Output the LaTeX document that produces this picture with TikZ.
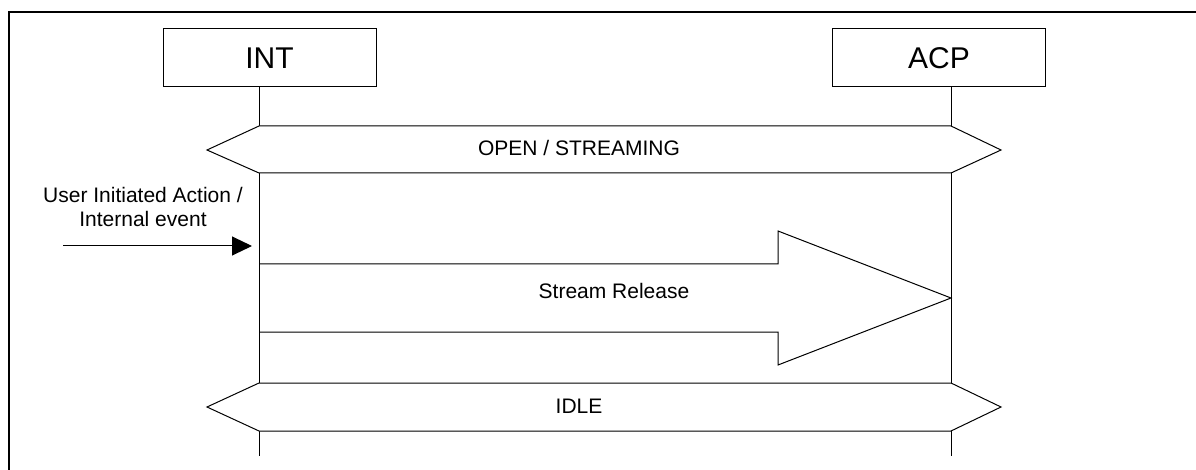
\documentclass[tikz,border=0pt]{standalone}
\usepackage{fontspec}
\setmainfont{Liberation Sans}
\usetikzlibrary{arrows.meta}
\tikzset{
  lifebox/.style={draw, line width=1pt, minimum width=213pt, minimum height=58pt, inner sep=0pt, font=\fontsize{30}{36}\selectfont},
  lbl/.style={inner sep=0pt, font=\fontsize{21}{24}\selectfont},
  shp/.style={draw, fill=white, line width=1pt, line join=miter},
  ln/.style={line width=1pt},
  frameln/.style={line width=1.6pt}
}
\begin{document}
\begin{tikzpicture}[x=1pt, y=-1pt]
\useasboundingbox (0,0) rectangle (1196,470);
% frame
\coordinate (fA) at (9,470);
\coordinate (fB) at (9,12);
\coordinate (fC) at (1196,12);
\draw[frameln] (fA) -- (fB) -- (fC);
% lifeline boxes
\node[lifebox] (int) at (269.5,58) {INT};
\node[lifebox] (acp) at (939,58) {ACP};
\coordinate (intEnd) at (259,456);
\coordinate (acpEnd) at (951,456);
\draw[ln] (int.south -| intEnd) -- (intEnd);
\draw[ln] (acp.south -| acpEnd) -- (acpEnd);
% OPEN / STREAMING state
\draw[shp] (259,126) -- (951,126) -- (1001,150) -- (951,173) -- (259,173) -- (207,150) -- cycle;
\node[lbl] (open) at (579,148) {OPEN / STREAMING};
% Stream Release arrow
\fill[white] (259,264) -- (778,264) -- (778,231) -- (951,298) -- (778,365) -- (778,332) -- (259,332) -- cycle;
\draw[ln, line join=miter] (259,264) -- (778,264) -- (778,231) -- (951,298) -- (778,365) -- (778,332) -- (259,332);
\draw[ln] (259,173) -- (259,383);
\node[lbl] (rel) at (614,291) {Stream Release};
% IDLE state
\draw[shp] (259,383) -- (951,383) -- (1001,407) -- (951,431) -- (259,431) -- (207,407) -- cycle;
\node[lbl] (idle) at (579,406) {IDLE};
% trigger
\node[lbl, align=center] (trig) at (143,207) {User Initiated Action /\\Internal event};
\coordinate (evStart) at (63,246);
\coordinate (evEnd) at (252,246);
\draw[ln, -{Triangle[length=20pt,width=19pt]}] (evStart) -- (evEnd);
\end{tikzpicture}
\end{document}
